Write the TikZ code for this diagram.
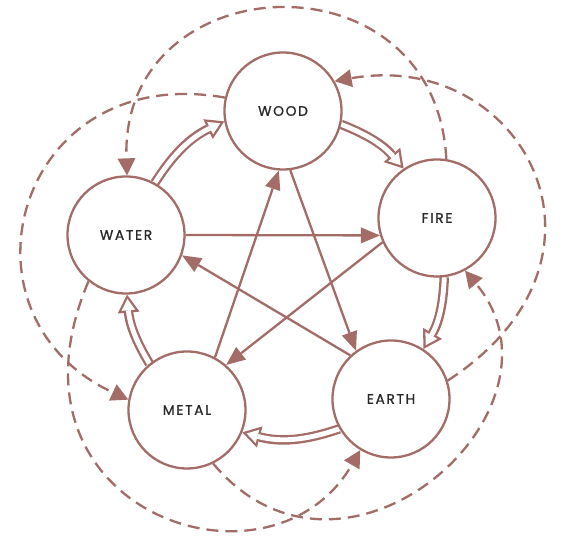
\documentclass[tikz,border=0pt]{standalone}
\usepackage{fontspec}
\newfontfamily\labfont[LetterSpace=12,FakeBold=1]{Poppins}
\usetikzlibrary{arrows.meta,backgrounds}
\definecolor{brn}{RGB}{163,108,102}
\definecolor{txt}{RGB}{40,40,40}
\begin{document}
\begin{tikzpicture}[x=1pt,y=1pt,
  element/.style={circle, draw=brn, line width=2.3pt, fill=white, minimum size=117pt, inner sep=0pt,
    font=\labfont\fontsize{13.8}{15}\selectfont, text=txt},
  control/.style={draw=brn, line width=2.3pt, -{Triangle[length=19pt,width=16pt,line width=0pt]}},
  insult/.style={draw=brn, line width=2.3pt, dash pattern=on 12pt off 7pt, -{Triangle[length=17pt,width=18pt,line width=0pt]}},
  generate/.style={draw=brn, line width=9.5pt, -{Triangle[length=18pt,width=22pt,line width=0pt]},
    postaction={draw=white, line width=4.9pt, -{Triangle[length=11.3pt,width=13.8pt,line width=0pt]}, shorten >=4.4pt}},
]
\useasboundingbox (0,0) rectangle (566,541);
\node[element] (WOOD)  at (283,430) {WOOD};
\node[element] (FIRE)  at (437,323) {FIRE};
\node[element] (EARTH) at (391,142) {EARTH};
\node[element] (METAL) at (187,131) {METAL};
\node[element] (WATER) at (126,306) {WATER};
\begin{scope}[on background layer]
\fill[white] (0,0) rectangle (566,541);
% generating cycle
\draw[generate] (WATER.61) to[bend left=16] (WOOD.190);
\draw[generate] (WOOD.-13) to[bend left=14] (FIRE.124);
\draw[generate] (FIRE.-83) to[bend left=14] (EARTH.57);
\draw[generate] (EARTH.210) to[bend left=17] (METAL.-22);
\draw[generate] (METAL.129) to[bend left=13] (WATER.-89);
% controlling star
\draw[control] (WATER.0) -- (FIRE.197);
\draw[control] (FIRE.204) -- (METAL.49);
\draw[control] (METAL.62) -- (WOOD.266);
\draw[control] (WOOD.277) -- (EARTH.126);
\draw[control] (EARTH.133) -- (WATER.-20);
% insulting cycle
\draw[insult] (FIRE.81) .. controls +(93:211pt) and +(92:211pt) .. (WATER.89);
\draw[insult] (WOOD.167) .. controls +(170:212pt) and +(155:200pt) .. (METAL.170);
\draw[insult] (WATER.231) .. controls +(247:250pt) and +(240:180pt) .. (EARTH.239);
\draw[insult] (METAL.-64) .. controls +(-50:205pt) and +(-50:180pt) .. (FIRE.-62);
\draw[insult] (EARTH.18) .. controls +(33:225pt) and +(10:190pt) .. (WOOD.30);
\end{scope}
\end{tikzpicture}
\end{document}
